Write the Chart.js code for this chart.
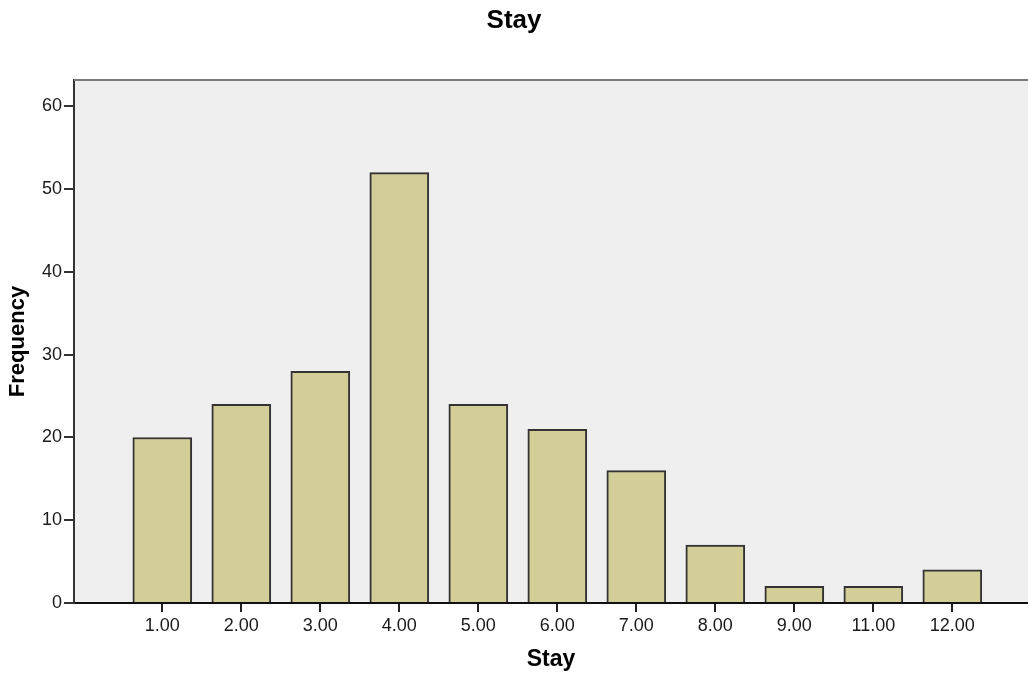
<!DOCTYPE html>
<html>
<head>
<meta charset="utf-8">
<script src="https://cdn.jsdelivr.net/npm/chart.js@4/dist/chart.umd.min.js"></script>
<style>
html,body{margin:0;padding:0;background:#ffffff;}
#wrap{width:1028px;height:675px;}
</style>
</head>
<body>
<div id="wrap"><canvas id="c" width="1028" height="675"></canvas></div>
<script>
const categories = ["1.00","2.00","3.00","4.00","5.00","6.00","7.00","8.00","9.00","11.00","12.00"];
const frequencies = [20, 24, 28, 52, 24, 21, 16, 7, 2, 2, 4];
const yTickValues = [0, 10, 20, 30, 40, 50, 60];
const chartTitle = "Stay";
const xTitle = "Stay";
const yTitle = "Frequency";

const FONT = "'Liberation Sans', Arial, sans-serif";

const plotBg = {
  id: 'plotBg',
  beforeDraw(chart) {
    const {ctx, chartArea: a} = chart;
    ctx.save();
    ctx.fillStyle = '#efefef';
    ctx.fillRect(a.left, a.top, a.right - a.left, a.bottom - a.top);
    ctx.restore();
  },
  afterDatasetsDraw(chart) {
    const {ctx, chartArea: a} = chart;
    ctx.save();
    ctx.strokeStyle = '#7a7a7a';
    ctx.lineWidth = 2;
    ctx.beginPath();
    ctx.moveTo(a.left, a.top);
    ctx.lineTo(a.right, a.top);
    ctx.stroke();
    ctx.restore();
  }
};

new Chart(document.getElementById('c'), {
  type: 'bar',
  data: {
    datasets: [{
      data: frequencies.map((v, i) => ({x: i, y: v})),
      backgroundColor: '#d3ce97',
      borderColor: '#333333',
      borderWidth: 2,
      borderSkipped: 'bottom',
      barThickness: 59
    }]
  },
  options: {
    responsive: false,
    devicePixelRatio: 1,
    animation: false,
    layout: {padding: 0},
    plugins: {
      legend: {display: false},
      tooltip: {enabled: false},
      title: {
        display: true,
        text: chartTitle,
        color: '#000000',
        font: {family: FONT, size: 26, weight: 'bold'},
        padding: {top: 5, bottom: 43.8}
      }
    },
    scales: {
      x: {
        type: 'linear',
        offset: false,
        min: -1.1177,
        max: 10.958,
        afterFit(scale) { scale.height = 72; },
        afterBuildTicks(scale) {
          scale.ticks = categories.map((c, i) => ({value: i}));
        },
        ticks: {
          autoSkip: false,
          maxRotation: 0,
          padding: 3,
          color: '#1a1a1a',
          font: {family: FONT, size: 18},
          callback: (v) => categories[v] !== undefined ? categories[v] : ''
        },
        grid: {offset: false, drawOnChartArea: false, drawTicks: true, tickLength: 9, color: '#222222', lineWidth: 2},
        border: {display: true, color: '#111111', width: 2},
        title: {
          display: true,
          text: xTitle,
          color: '#000000',
          font: {family: FONT, size: 23, weight: 'bold'},
          padding: {top: 0, bottom: 2}
        }
      },
      y: {
        type: 'linear',
        min: 0,
        max: 63.2,
        afterFit(scale) { scale.width = 74; },
        afterBuildTicks(scale) {
          scale.ticks = yTickValues.map(v => ({value: v}));
        },
        ticks: {
          padding: 2,
          color: '#1a1a1a',
          font: {family: FONT, size: 18}
        },
        grid: {drawOnChartArea: false, drawTicks: true, tickLength: 10, color: '#333333', lineWidth: 2},
        border: {display: true, color: '#333333', width: 2},
        title: {
          display: true,
          text: yTitle,
          color: '#000000',
          font: {family: FONT, size: 22, weight: 'bold'},
          padding: {top: 5, bottom: 0}
        }
      }
    }
  },
  plugins: [plotBg]
});
</script>
</body>
</html>
